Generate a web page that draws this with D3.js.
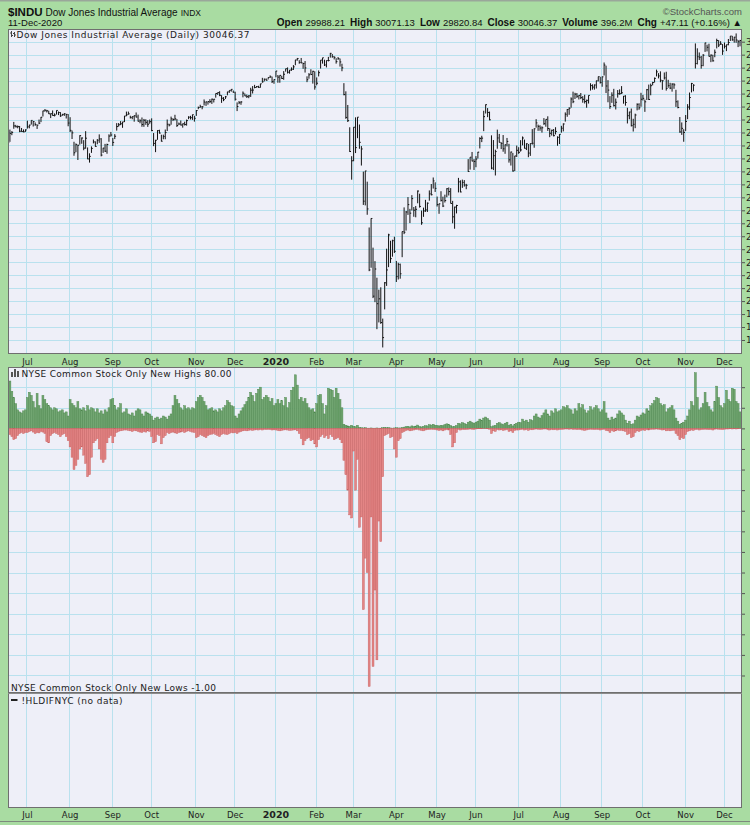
<!DOCTYPE html>
<html><head><meta charset="utf-8">
<script src="https://cdn.jsdelivr.net/npm/d3@7"></script>
<style>
html,body{margin:0;padding:0;background:#a9dca2;}
svg{display:block;}
</style></head><body>
<svg id="c" width="750" height="825"></svg>
<script>
// ---------- DATA ----------
const startDate = "2019-06-17";
const endDate = "2020-12-11";
const holidays = ["2019-07-04","2019-09-02","2019-11-28","2019-12-25","2020-01-01","2020-01-20",
  "2020-02-17","2020-04-10","2020-05-25","2020-07-03","2020-09-07","2020-11-26"];

// Daily closes of $INDU (trading days, Jun-17-2019 .. Dec-11-2020)
const closes = [
26112,26465,26504,26753,26719,26727,26548,26536,26526,26600,
26717,26787,26966,26922,26806,26784,26860,27088,27332,27359,27336,27220,27223,27154,27172,27350,27270,27141,27192,27221,27198,26864,
26583,26485,25718,26030,26008,26378,26287,25897,26280,25480,25579,25886,26136,25962,26202,26252,25629,25899,25778,26036,26362,26403,
26118,26355,26728,26797,26836,26909,27137,27182,27220,27076,27111,27147,27095,26935,26950,26808,26971,26891,26820,26917,
26573,26079,26202,26573,26478,26165,26347,26497,26817,26787,27025,27002,27026,26770,26828,26788,26834,26806,26958,27091,27071,27186,27046,
27347,27462,27493,27492,27675,27681,27691,27691,27784,27782,28005,28036,27934,27821,27766,27876,28066,28121,28164,28051,
27783,27503,27650,27677,28015,27909,27882,27911,28132,28135,28235,28267,28239,28377,28455,28551,28515,28621,28645,28462,28538,
28868,28635,28703,28583,28745,28957,28824,28908,28940,29030,29298,29348,29196,29186,29160,28990,28535,28723,28734,28859,28256,
28400,28807,29291,29380,29103,29276,29276,29551,29424,29398,29232,29348,29220,28992,27961,27081,26957,25766,25409,
26703,25917,27091,26121,25865,23851,25018,23553,21200,23185,20189,21237,19899,20087,19174,18592,20704,21200,22552,21637,22328,21917,
20944,21413,21053,22680,22654,23434,23719,23390,23950,23505,23538,24242,23650,23019,23475,23515,23775,24134,24101,24634,24346,
23724,23750,23883,23664,23876,24331,24222,23764,23248,23625,23685,24597,24207,24576,24474,24465,24995,25548,25401,25383,
25475,25742,26270,26282,27111,27572,27272,26990,25128,25606,25763,26290,26120,26080,25871,26025,26156,25446,25746,25016,25595,25813,
25735,25827,26288,25891,26067,25706,26075,26086,26643,26870,26735,26672,26681,26840,27006,26653,26470,26585,26379,26540,26314,26428,
26665,26828,27202,27387,27433,27791,27687,27977,27897,27931,27845,27778,27693,27740,27930,28308,28249,28332,28493,28654,28430,
28646,29100,28293,28134,27501,27940,27535,27666,27993,27996,28032,27902,27657,27148,27289,26763,26815,27174,27584,27453,27782,
27817,27683,28149,27773,28304,28426,28587,28838,28680,28515,28494,28606,28196,28309,28211,28364,28336,27685,27464,26520,26660,26502,
26925,27481,27848,28391,28323,29158,29421,29398,29080,29480,29950,29784,29438,29483,29263,29592,30046,29873,29910,29639,
29824,29884,29970,30218,30070,30174,30068,29999,30046];

const highs = [
26185,26612,26551,26907,26794,26769,26752,26674,26618,26621,
26955,26798,26967,26945,26888,26797,27000,27099,27338,27398,27372,27340,27238,27350,27236,27350,27309,27286,27221,27247,27215,27208,
27090,26575,26142,26078,26024,26395,26310,26204,26551,25923,25697,25964,26230,26159,26245,26427,26283,25908,26061,26068,26429,26521,
26289,26437,26860,26864,26939,26910,27137,27306,27306,27147,27125,27160,27272,27188,27007,27079,27022,27009,26974,26999,
27046,26478,26216,26590,26606,26414,26417,26613,27001,26836,27113,27044,27182,27018,26882,26962,26845,26916,26998,27126,27143,27189,27143,
27363,27500,27569,27515,27774,27683,27694,27785,27807,27794,28005,28043,28090,27939,27864,27908,28068,28122,28174,28120,
28073,27660,27714,27708,28082,28004,27963,27942,28224,28290,28337,28289,28302,28377,28608,28582,28582,28621,28701,28654,28547,
28872,28716,28708,28685,28866,28961,29009,28908,29010,29098,29299,29374,29288,29373,29187,29255,28665,28790,28938,28878,28858,
28623,28892,29291,29380,29306,29276,29415,29568,29525,29438,29366,29409,29351,29153,28402,28087,27561,26701,25586,
26706,27084,27091,26807,25976,24992,25020,24604,22838,23190,22061,21540,20901,20440,20531,19325,20734,22020,22596,22327,22367,22480,
21548,21477,21446,22680,23612,23475,24009,23556,24085,23626,23666,24265,24140,23490,23604,23903,23803,24267,24513,24765,24580,
24029,23756,24236,24026,24103,24353,24381,24355,23863,23640,23712,24750,24656,24683,24665,24520,25473,25549,25749,25474,
25590,25752,26317,26375,27338,27581,27441,27306,26390,26208,25836,26611,26446,26122,26402,26039,26289,26063,25762,25712,25598,25995,
25932,26204,26347,26226,26083,26056,26079,26630,26658,27013,26804,26777,26737,27054,27006,27124,26663,26607,26634,26703,26351,26436,
26757,26851,27274,27405,27473,27854,28075,28030,28020,27937,28021,27902,27956,27767,27932,28399,28357,28353,28502,28655,28647,
28659,29199,29077,28518,27902,28049,28183,27809,28137,28164,28288,27908,27938,27454,27301,27423,27028,27225,27624,27627,28030,
27952,27770,28178,28347,28385,28455,28620,28924,28788,28857,28517,28813,28843,28531,28415,28399,28401,28146,27738,27096,26887,26626,
27173,27593,28041,28412,28361,29934,29745,29586,29451,29523,29964,29887,29923,29509,29496,29698,30116,30061,30020,29908,
29970,29886,30105,30218,30226,30188,30319,30062,30071];

const lows = [
26074,26139,26396,26644,26698,26661,26512,26526,26508,26523,
26650,26660,26805,26731,26758,26637,26823,26900,27117,27303,27272,27212,27056,27145,27119,27191,27171,27101,27142,27139,27039,26740,
26514,26249,25603,25741,25440,26032,26065,25816,25871,25470,25339,25714,26079,25948,26046,26101,25581,25715,25749,25681,26143,26343,
25979,26246,26573,26725,26782,26680,26900,27126,27183,27038,27011,26917,27079,26920,26855,26720,26718,26795,26717,26836,
26551,25974,25743,26218,26458,26150,26238,26240,26556,26735,26800,26941,26964,26713,26790,26771,26686,26770,26763,27013,27001,26987,26918,
27140,27399,27455,27395,27542,27525,27574,27633,27602,27657,27843,27952,27900,27641,27708,27793,27934,28028,28075,28033,
27729,27325,27592,27568,27855,27903,27834,27822,27871,28003,28204,28229,28221,28224,28418,28470,28501,28544,28603,28407,28377,
28628,28418,28418,28565,28532,28845,28773,28768,28877,28911,29093,29270,29151,29169,28955,28811,28441,28573,28728,28385,28152,
28319,28662,28965,29155,29063,29009,29240,29386,29383,29316,29154,29300,29042,28862,27934,27027,26904,25752,24681,
25391,25707,26281,25871,25226,23707,23690,23328,21154,21285,20116,19958,18917,19177,19122,18213,19680,20585,21309,21470,21712,21853,
20736,20832,20863,21693,22582,22719,23323,23007,23492,23251,23230,23771,23603,22941,23248,23440,23437,23871,24074,24338,24208,
23645,23365,23839,23625,23801,24003,24071,23764,23000,22789,23380,24190,24194,24365,24414,24313,24984,25070,25386,25055,
25161,25497,25886,26129,26552,27232,27092,26969,25082,25051,24843,25874,26117,25860,25758,25679,25961,25338,25225,24991,25013,25556,
25677,25764,26003,25883,25823,25547,25598,26034,25912,26687,26564,26567,26496,26795,26722,26560,26319,26382,26349,26425,25988,26055,
26493,26542,26920,27106,27182,27454,27630,27791,27833,27772,27787,27649,27618,27454,27616,28116,28152,28152,28195,28468,28387,
28263,28698,28020,27665,27411,27643,27500,27387,27844,27955,27986,27610,27534,26848,27010,26734,26537,26666,27353,27376,27493,
27734,27296,27755,27753,27935,28317,28425,28662,28585,28436,28147,28542,28115,28224,28171,28075,28184,27486,27432,26490,26407,26143,
26560,27013,27377,28045,28088,28968,29124,29293,28962,29056,29607,29625,29427,29212,29231,29402,29742,29794,29877,29492,
29739,29637,29860,30028,30040,29962,29958,29793,29821];

// NYSE common stock only: new highs / new lows per day
const newHighs = [
140,230,180,150,120,90,80,75,85,90,
150,175,160,130,100,170,110,95,160,140,120,110,100,90,100,95,80,85,90,75,80,60,
140,120,110,100,130,95,90,100,85,110,90,100,95,80,95,75,85,70,90,80,100,140,
145,110,90,100,120,75,80,95,70,65,75,60,85,95,90,70,60,80,75,70,
60,40,50,55,45,50,60,55,45,60,70,110,160,140,120,100,90,110,95,100,90,100,95,
130,150,160,150,130,110,90,95,100,85,90,80,95,85,100,110,135,125,110,105,
60,50,70,85,100,115,130,150,175,160,130,170,190,200,140,150,160,150,130,145,110,
120,140,120,135,110,150,100,125,185,200,260,210,140,150,130,145,120,100,90,95,80,
120,160,165,120,70,110,195,190,185,150,195,170,140,100,20,15,12,10,15,
10,8,15,5,3,2,3,1,1,2,1,1,2,1,1,3,5,3,4,2,1,2,
3,2,2,4,6,8,10,7,12,9,11,16,9,7,10,13,12,18,16,20,15,
14,12,15,13,18,22,20,14,8,10,14,25,22,28,24,20,30,35,28,25,
30,35,45,40,50,55,48,40,8,12,15,25,28,22,18,25,30,15,20,12,18,25,
30,28,45,35,40,30,42,38,60,70,55,50,62,75,90,70,60,85,75,95,80,85,
90,105,100,110,95,90,70,95,85,120,100,115,90,75,85,105,90,100,110,95,80,
90,130,75,50,40,55,45,50,70,85,75,65,40,25,35,20,22,40,60,55,65,
75,70,95,85,110,120,135,150,145,120,110,115,80,95,100,110,90,50,35,20,25,30,
40,60,90,130,110,270,150,90,100,120,175,125,105,90,80,130,205,150,110,100,
120,185,140,130,195,190,130,120,80];

const newLows = [
25,30,40,55,50,35,25,20,25,20,
20,15,12,18,25,20,22,15,18,25,65,70,35,25,20,25,30,40,30,25,40,60,
90,140,200,180,150,100,90,130,170,235,225,140,70,60,50,100,150,165,150,70,45,35,
70,40,20,15,12,10,8,8,10,12,15,10,12,15,18,20,15,18,12,15,
40,70,65,30,35,75,45,35,20,25,20,18,22,25,20,18,15,20,15,12,15,18,20,
45,40,30,35,40,45,35,30,28,25,30,35,40,30,25,28,30,25,20,22,
20,25,18,15,12,10,12,10,8,10,8,7,8,6,8,5,6,5,6,8,7,
8,10,12,10,8,7,8,10,9,8,7,12,25,50,80,60,50,45,60,55,75,
90,55,40,30,45,35,50,30,40,55,50,45,55,70,155,225,300,420,435,
110,300,150,480,430,880,630,700,1253,430,1156,785,1124,450,550,235,35,30,25,45,40,100,
140,60,50,20,15,10,8,12,10,8,6,5,8,10,12,8,6,5,4,5,6,
8,10,8,12,8,6,8,30,90,70,20,5,8,5,6,5,4,3,4,5,
3,2,2,2,1,1,2,4,25,12,15,6,8,7,10,8,6,15,12,20,10,8,
8,6,4,8,6,10,6,7,4,3,4,5,4,3,3,6,8,5,7,6,8,6,
5,4,3,3,4,3,5,4,6,5,6,8,10,8,6,4,5,6,5,6,8,
6,4,10,12,20,10,15,12,8,10,9,12,15,30,25,45,40,20,12,15,10,
8,10,6,8,5,4,4,3,4,6,8,7,12,10,12,10,9,25,35,55,45,50,
30,15,12,8,10,6,5,8,6,5,4,5,6,5,8,4,3,4,5,6,
4,3,3,2,3,2,3,2,1];

const monthLabels = ["Jul","Aug","Sep","Oct","Nov","Dec","2020","Feb","Mar","Apr","May","Jun","Jul","Aug","Sep","Oct","Nov","Dec"];
const priceTicks = [18500,19000,19500,20000,20500,21000,21500,22000,22500,23000,23500,24000,24500,25000,25500,26000,26500,27000,27500,28000,28500,29000,29500,30000];
const breadthTicks = [-1200,-1100,-1000,-900,-800,-700,-600,-500,-400,-300,-200,-100,0,100,200];

// ---------- BUILD ----------
const fmt = d3.utcFormat("%Y-%m-%d");
const hol = new Set(holidays);
const dates = [];
for (let d = d3.utcParse("%Y-%m-%d")(startDate); d <= d3.utcParse("%Y-%m-%d")(endDate); d = d3.utcDay.offset(d, 1)) {
  const wd = d.getUTCDay();
  if (wd === 0 || wd === 6 || hol.has(fmt(d))) continue;
  dates.push(d);
}
const monthStarts = [];
dates.forEach((d, i) => { if (i > 0 && d.getUTCMonth() !== dates[i-1].getUTCMonth()) monthStarts.push(i); });

const svg = d3.select("#c");
const W = 750, H = 825;
const L = 8, R = 742;
const P1 = {t: 29, b: 354}, P2 = {t: 367, b: 693}, P3 = {t: 693, b: 808};
const bg = "#eeeff8", grid = "#b9e1ee", border = "#6f6f6f";

const x = d3.scaleBand().domain(d3.range(dates.length)).range([7, 741]).padding(0);
const bw = x.bandwidth();
const y1 = d3.scaleLinear().domain([17960, 30490]).range([P1.b, P1.t]);
const y2 = d3.scaleLinear().domain([-1285, 298]).range([P2.b, P2.t]);

svg.append("rect").attr("width", W).attr("height", H).attr("fill", "#a9dca2");
svg.append("rect").attr("x", 0).attr("y", 0).attr("width", W).attr("height", 1.5).attr("fill", "#9aa79a");
svg.append("line").attr("x1", 0).attr("x2", W).attr("y1", 821.5).attr("y2", 821.5).attr("stroke", "#7d8a7d");

const defs = svg.append("defs");
[["c1", P1], ["c2", P2], ["c3", P3]].forEach(([id, p]) => {
  defs.append("clipPath").attr("id", id).append("rect").attr("x", L).attr("y", p.t).attr("width", R - L).attr("height", p.b - p.t);
});

function panel(p, clipId, hTicks, yScale) {
  svg.append("rect").attr("x", L).attr("y", p.t).attr("width", R - L).attr("height", p.b - p.t).attr("fill", bg);
  const g = svg.append("g").attr("clip-path", `url(#${clipId})`);
  if (hTicks) {
    g.selectAll(null).data(hTicks).join("line")
      .attr("x1", L).attr("x2", R)
      .attr("y1", d => Math.round(yScale(d)) + 0.5).attr("y2", d => Math.round(yScale(d)) + 0.5)
      .attr("stroke", grid).attr("stroke-width", 1);
  }
  g.selectAll(null).data(monthStarts).join("line")
    .attr("x1", d => Math.round(x(d)) + 0.5).attr("x2", d => Math.round(x(d)) + 0.5)
    .attr("y1", p.t).attr("y2", p.b)
    .attr("stroke", grid).attr("stroke-width", 1);
  return g;
}

// Panel 1: price bars
const g1 = panel(P1, "c1", priceTicks, y1);
const bars = g1.selectAll(null).data(dates.map((d, i) => i)).join("g");
bars.append("line")
  .attr("x1", i => x(i) + bw / 2).attr("x2", i => x(i) + bw / 2)
  .attr("y1", i => y1(highs[i])).attr("y2", i => y1(lows[i]))
  .attr("stroke", "#111").attr("stroke-width", 1);
bars.append("line")
  .attr("x1", i => x(i) + bw / 2).attr("x2", i => x(i) + bw / 2 + 1.3)
  .attr("y1", i => y1(closes[i])).attr("y2", i => y1(closes[i]))
  .attr("stroke", "#111").attr("stroke-width", 1);

// Panel 2: new highs (up, green) / new lows (down, red)
const g2 = panel(P2, "c2", breadthTicks, y2);
g2.selectAll(null).data(newHighs).join("rect")
  .attr("x", (d, i) => x(i)).attr("width", bw)
  .attr("y", d => y2(d)).attr("height", d => y2(0) - y2(d))
  .attr("fill", "#72a672").attr("stroke", "#4c874c").attr("stroke-width", 0.45);
g2.selectAll(null).data(newLows).join("rect")
  .attr("x", (d, i) => x(i)).attr("width", bw)
  .attr("y", y2(0)).attr("height", d => y2(-d) - y2(0))
  .attr("fill", "#e38585").attr("stroke", "#c86262").attr("stroke-width", 0.45);

// Panel 3: empty
panel(P3, "c3", null, null);

// Borders
[P1, P2, P3].forEach(p => {
  svg.append("rect").attr("x", L + 0.5).attr("y", p.t + 0.5).attr("width", R - L - 1).attr("height", p.b - p.t - 1)
    .attr("fill", "none").attr("stroke", border).attr("stroke-width", 1);
});
svg.append("line").attr("x1", L).attr("x2", R).attr("y1", P2.b + 0.5).attr("y2", P2.b + 0.5).attr("stroke", "#8c8c8c").attr("stroke-width", 1.2);

// Right axes (labels are cut by the window edge, as in the original)
const ax1 = svg.append("g").attr("transform", `translate(${R},0)`)
  .call(d3.axisRight(y1).tickValues(priceTicks).tickSize(3).tickPadding(1).tickFormat(d3.format("d")));
ax1.select(".domain").remove();
ax1.selectAll("text").attr("font-family", "DejaVu Sans, sans-serif").attr("font-size", 9).attr("fill", "#222");
ax1.selectAll("line").attr("stroke", "#555");

const ax2 = svg.append("g").attr("transform", `translate(${R},0)`)
  .call(d3.axisRight(y2).tickValues(breadthTicks).tickSize(3).tickFormat(""));
ax2.select(".domain").remove();
ax2.selectAll("line").attr("stroke", "#555");

// Bottom axes (month labels)
function monthAxis(yPos) {
  const a = svg.append("g").attr("transform", `translate(0,${yPos})`)
    .call(d3.axisBottom(x).tickValues(monthStarts).tickSize(0).tickPadding(0).tickFormat((d, k) => monthLabels[k]));
  a.select(".domain").remove();
  a.selectAll("text")
    .attr("font-family", "DejaVu Sans, sans-serif").attr("fill", "#222")
    .attr("dy", 0).attr("y", 0)
    .attr("font-weight", (d, k) => monthLabels[k] === "2020" ? "bold" : "normal")
    .attr("font-size", (d, k) => monthLabels[k] === "2020" ? 9.5 : 8.5);
}
monthAxis(364.5);
monthAxis(818);

// Header texts
const hdr = svg.append("text").attr("x", 8).attr("y", 16).attr("font-family", "Liberation Sans, Arial, sans-serif").attr("fill", "#111");
hdr.append("tspan").attr("font-weight", "bold").attr("font-size", 11.5).text("$INDU");
hdr.append("tspan").attr("font-size", 10).attr("dx", 3).text("Dow Jones Industrial Average");
hdr.append("tspan").attr("font-size", 8.5).attr("dx", 3).text("INDX");
svg.append("text").attr("x", 8).attr("y", 26).attr("font-family", "Liberation Sans, Arial, sans-serif")
  .attr("font-size", 9.5).attr("fill", "#111").text("11-Dec-2020");
svg.append("text").attr("x", 742).attr("y", 14.5).attr("text-anchor", "end")
  .attr("font-family", "Liberation Sans, Arial, sans-serif").attr("font-size", 9.5).attr("fill", "#555").text("©StockCharts.com");

const ohlc = [["Open", "29988.21"], ["High", "30071.13"], ["Low", "29820.84"], ["Close", "30046.37"], ["Volume", "396.2M"], ["Chg", "+47.11 (+0.16%) ▲"]];
const hr = svg.append("text").attr("x", 742).attr("y", 26).attr("text-anchor", "end")
  .attr("font-family", "Liberation Sans, Arial, sans-serif").attr("fill", "#111");
ohlc.forEach(([k, v], j) => {
  hr.append("tspan").attr("font-weight", "bold").attr("font-size", 10).attr("dx", j ? 5 : 0).text(k);
  hr.append("tspan").attr("font-size", 9.5).attr("dx", 3).text(v);
});

// Panel titles
const titleFont = "DejaVu Sans, Verdana, sans-serif";
function title(xp, yp, txt, len) {
  svg.append("text").attr("x", xp).attr("y", yp).attr("font-family", titleFont).attr("font-size", 9).attr("fill", "#222")
    .attr("textLength", len).attr("lengthAdjust", "spacing").text(txt);
}
svg.append("path").attr("d", "M11.5,31v6M10,33h1.5M11.5,35.5h1.5M14.5,32v5M13,33.5h1.5M14.5,35h1.5")
  .attr("stroke", "#444").attr("stroke-width", 1).attr("fill", "none");
title(16.5, 37.5, "Dow Jones Industrial Average (Daily) 30046.37", 233);

svg.append("path").attr("d", "M11,377v-5h2v5zM14,377v-8h2v8zM17,377v-6h2v6z").attr("fill", "#555");
title(21.5, 377, "NYSE Common Stock Only New Highs 80.00", 210);
title(11, 690.5, "NYSE Common Stock Only New Lows -1.00", 205);

svg.append("line").attr("x1", 11).attr("x2", 17.5).attr("y1", 700).attr("y2", 700).attr("stroke", "#222").attr("stroke-width", 2);
title(21.5, 703.5, "!HLDIFNYC (no data)", 101);
</script>
</body></html>
